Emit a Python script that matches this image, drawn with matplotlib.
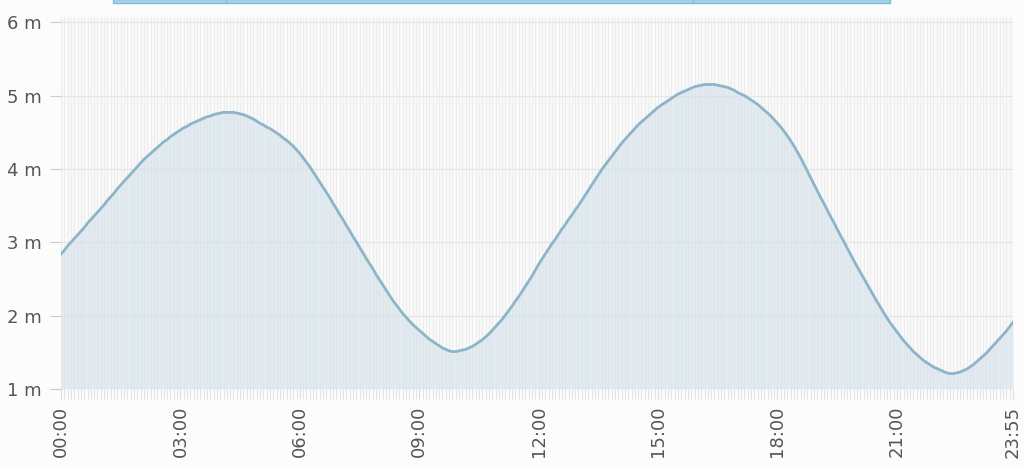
#Tide level chart, one day at 5 minute steps

import numpy as np
import matplotlib.pyplot as plt
from matplotlib.patches import Rectangle

#Categories: 00:00 ... 23:55
times=[f'{h:02d}:{m:02d}' for h in range(24) for m in range(0,60,5)]

#Tide height (m)
level=[2.84,2.89,2.95,3.00,3.05,3.10,3.15,3.20,3.26,3.31,3.36,3.41,
       3.46,3.51,3.57,3.62,3.67,3.73,3.78,3.83,3.88,3.93,3.98,4.03,
       4.08,4.13,4.17,4.21,4.25,4.29,4.33,4.37,4.40,4.44,4.47,4.50,
       4.53,4.56,4.58,4.61,4.63,4.65,4.67,4.69,4.71,4.72,4.74,4.75,
       4.76,4.77,4.77,4.77,4.77,4.76,4.75,4.74,4.72,4.70,4.68,4.65,
       4.62,4.60,4.57,4.55,4.52,4.49,4.46,4.42,4.39,4.35,4.31,4.26,
       4.21,4.15,4.09,4.03,3.96,3.89,3.82,3.75,3.68,3.61,3.53,3.46,
       3.38,3.31,3.23,3.16,3.08,3.01,2.93,2.86,2.78,2.71,2.64,2.56,
       2.49,2.42,2.35,2.28,2.21,2.15,2.09,2.03,1.98,1.93,1.88,1.84,
       1.80,1.76,1.72,1.68,1.65,1.62,1.59,1.56,1.54,1.52,1.51,1.51,
       1.52,1.53,1.54,1.56,1.58,1.61,1.64,1.67,1.71,1.75,1.80,1.85,
       1.90,1.95,2.01,2.07,2.13,2.20,2.26,2.33,2.40,2.47,2.54,2.62,
       2.70,2.77,2.84,2.91,2.98,3.04,3.11,3.18,3.24,3.31,3.37,3.44,
       3.50,3.57,3.64,3.71,3.78,3.85,3.92,3.99,4.05,4.11,4.17,4.23,
       4.29,4.35,4.40,4.45,4.50,4.55,4.60,4.64,4.68,4.72,4.76,4.80,
       4.84,4.87,4.90,4.93,4.96,4.99,5.02,5.04,5.06,5.08,5.10,5.12,
       5.13,5.14,5.15,5.15,5.15,5.15,5.14,5.13,5.12,5.11,5.09,5.07,
       5.04,5.02,5.00,4.97,4.94,4.91,4.88,4.84,4.80,4.76,4.72,4.67,
       4.62,4.57,4.51,4.45,4.38,4.31,4.23,4.15,4.06,3.97,3.88,3.79,
       3.70,3.61,3.53,3.44,3.35,3.27,3.18,3.09,3.01,2.92,2.84,2.75,
       2.67,2.59,2.51,2.43,2.35,2.27,2.19,2.12,2.04,1.97,1.90,1.84,
       1.78,1.72,1.66,1.61,1.56,1.51,1.47,1.43,1.39,1.36,1.33,1.30,
       1.28,1.26,1.24,1.22,1.21,1.21,1.22,1.23,1.25,1.27,1.30,1.33,
       1.37,1.41,1.45,1.49,1.54,1.59,1.64,1.69,1.74,1.79,1.85,1.91]

yticks=[1,2,3,4,5,6]
xlabels=['00:00','03:00','06:00','09:00','12:00','15:00','18:00','21:00','23:55']

x=np.arange(len(times))
xt=[times.index(t) for t in xlabels]

fig=plt.figure(figsize=(10.24,4.66),dpi=100,facecolor='#fcfcfc')
ax=fig.add_axes([61/1024,(466-389)/466,952/1024,(389-17)/466])
ax.set_facecolor('#fafafa')

#thin vertical stripe for every 5 min
ax.vlines(x,1,6.07,color='#ededed',lw=0.9,zorder=1)
for v in yticks:
    ax.axhline(v,color='#e6e6e6',lw=0.9,zorder=1.5)

ax.fill_between(x,1,level,color='#d3e1e8',alpha=0.6,lw=0,zorder=2)
ax.plot(x,level,color='#8db5c9',lw=2.0,zorder=3)

ax.set_xlim(0,len(times)-1)
ax.set_ylim(1,6.07)
ax.set_yticks(yticks)
ax.set_yticklabels([f'{v} m' for v in yticks])
ax.set_xticks(xt)
ax.set_xticklabels(xlabels,rotation=90)
ax.set_xticks(x,minor=True)
ax.tick_params(axis='y',length=8,color='#cccccc',labelcolor='#555555',labelsize=13,pad=6)
ax.tick_params(axis='x',which='both',length=7,color='#dddddd',labelcolor='#555555',labelsize=13,pad=5)
for s in ax.spines.values():
    s.set_visible(False)

#cut off box at the top edge
fig.add_artist(Rectangle((113/1024,463/466),(890-113)/1024,4/466,transform=fig.transFigure,
                         facecolor='#a6d3ea',edgecolor='#7fbcdc',lw=1))
for px in [226,693]:
    fig.add_artist(plt.Line2D([px/1024,px/1024],[463/466,1],transform=fig.transFigure,color='#7fbcdc',lw=1))

plt.savefig('out.png',dpi=100,facecolor=fig.get_facecolor())
